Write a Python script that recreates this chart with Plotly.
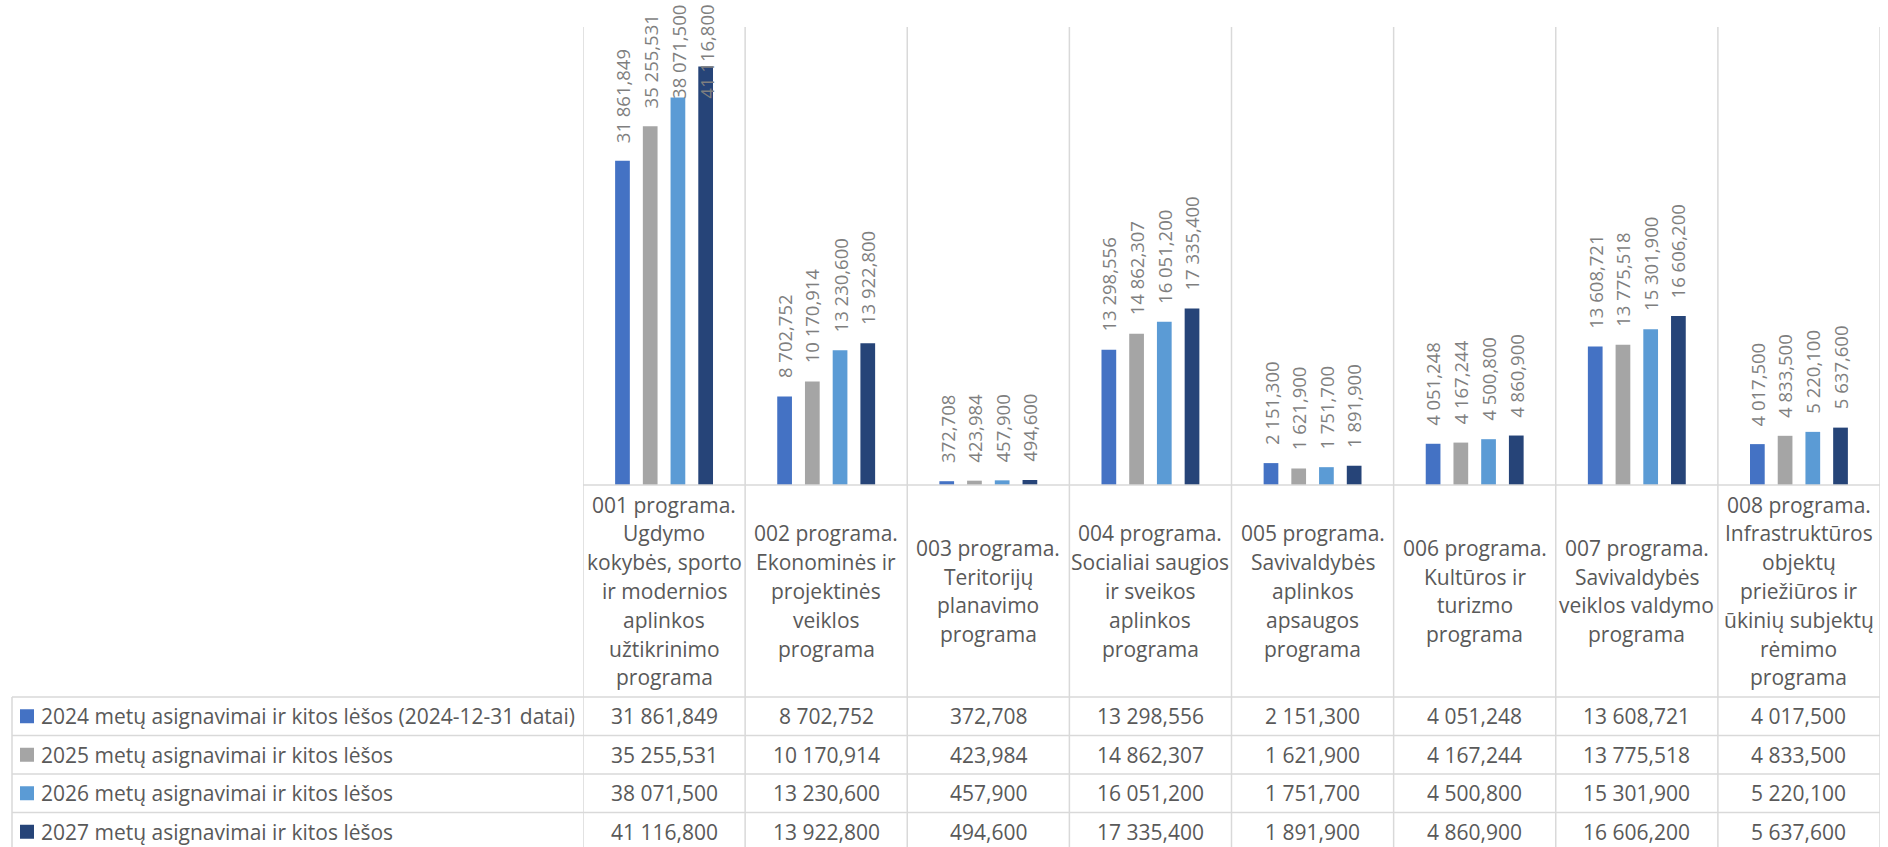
import plotly.graph_objects as go

# ---------------- data ----------------
category_lines = [
    ["001 programa.", "Ugdymo", "kokybės, sporto", "ir modernios", "aplinkos", "užtikrinimo", "programa"],
    ["002 programa.", "Ekonominės ir", "projektinės", "veiklos", "programa"],
    ["003 programa.", "Teritorijų", "planavimo", "programa"],
    ["004 programa.", "Socialiai saugios", "ir sveikos", "aplinkos", "programa"],
    ["005 programa.", "Savivaldybės", "aplinkos", "apsaugos", "programa"],
    ["006 programa.", "Kultūros ir", "turizmo", "programa"],
    ["007 programa.", "Savivaldybės", "veiklos valdymo", "programa"],
    ["008 programa.", "Infrastruktūros", "objektų", "priežiūros ir", "ūkinių subjektų", "rėmimo", "programa"],
]
series_names = [
    "2024 metų asignavimai ir kitos lėšos (2024-12-31 datai)",
    "2025 metų asignavimai ir kitos lėšos",
    "2026 metų asignavimai ir kitos lėšos",
    "2027 metų asignavimai ir kitos lėšos",
]
v2024 = [31861.849, 8702.752, 372.708, 13298.556, 2151.300, 4051.248, 13608.721, 4017.500]
v2025 = [35255.531, 10170.914, 423.984, 14862.307, 1621.900, 4167.244, 13775.518, 4833.500]
v2026 = [38071.500, 13230.600, 457.900, 16051.200, 1751.700, 4500.800, 15301.900, 5220.100]
v2027 = [41116.800, 13922.800, 494.600, 17335.400, 1891.900, 4860.900, 16606.200, 5637.600]
series_values = [v2024, v2025, v2026, v2027]
colors = ["#4472C4", "#A5A5A5", "#5B9BD5", "#264478"]
y_max = 45000

# ---------------- layout geometry (pixels) ----------------
W, H = 1888, 847
PL, PR = 583, 1880          # plot area left/right
PT, PB = 27, 485            # plot area top/bottom
TABLE_TOP = 697
ROW_H = 38.5
TABLE_LEFT = 12
LINE_COL = "#D9D9D9"
TEXT_COL = "#595959"
LABEL_COL = "#7F7F7F"
FONT = "Open Sans"
BARGAP = 0.316
BARGROUPGAP = 0.469

pw = PR - PL
ph = PB - PT


def px_x(p):
    return (p - PL) / pw


def px_y(p):
    return (PB - p) / ph


def fmt(v):
    s = f"{v:,.3f}"
    return s.replace(",", " ").replace(".", ",")


n_cat = len(category_lines)
xs = list(range(n_cat))

fig = go.Figure()
for name, vals, col in zip(series_names, series_values, colors):
    fig.add_trace(go.Bar(x=xs, y=vals, name=name, marker=dict(color=col, line=dict(width=0)),
                         showlegend=False, hoverinfo="skip"))

annotations = []
shapes = []

# data labels (rotated)
scale = ph / y_max
slot = (1 - BARGAP) / len(series_values)
cap_px = PB - 100  # highest allowed bottom of a label (px above baseline)
for k, vals in enumerate(series_values):
    for i, v in enumerate(vals):
        bottom_px = min(v * scale + 17, cap_px)
        annotations.append(dict(
            x=i + (k - 1.5) * slot, y=bottom_px / scale, xref="x", yref="y",
            text=fmt(v), textangle=-90, showarrow=False,
            xanchor="center", yanchor="bottom", borderpad=0,
            font=dict(family=FONT, size=18.5, color=LABEL_COL)))

# category labels
cat_center = (PB + TABLE_TOP) / 2
line_h = 28.8
for i, lines in enumerate(category_lines):
    n = len(lines)
    for j, t in enumerate(lines):
        p = cat_center + (j - (n - 1) / 2) * line_h
        annotations.append(dict(
            x=i, y=px_y(p), xref="x", yref="paper", text=t, showarrow=False,
            xanchor="center", yanchor="middle",
            font=dict(family=FONT, size=21, color=TEXT_COL)))

# table rows
for r, (name, vals, col) in enumerate(zip(series_names, series_values, colors)):
    cy = TABLE_TOP + ROW_H * (r + 0.5)
    shapes.append(dict(type="rect", xref="paper", yref="paper",
                       x0=px_x(20), x1=px_x(34), y0=px_y(cy - 7), y1=px_y(cy + 7),
                       fillcolor=col, line=dict(width=0)))
    annotations.append(dict(
        x=px_x(39), y=px_y(cy), xref="paper", yref="paper", text=name, showarrow=False,
        xanchor="left", yanchor="middle",
        font=dict(family=FONT, size=21, color=TEXT_COL)))
    for i, v in enumerate(vals):
        annotations.append(dict(
            x=i, y=px_y(cy), xref="x", yref="paper", text=fmt(v), showarrow=False,
            xanchor="center", yanchor="middle",
            font=dict(family=FONT, size=21, color=TEXT_COL)))

# grid / table lines
lw = 1.5
for i in range(n_cat + 1):
    shapes.append(dict(type="line", xref="x", yref="paper", x0=i - 0.5, x1=i - 0.5,
                       y0=px_y(PT), y1=px_y(H + 5), line=dict(color=LINE_COL, width=lw)))
shapes.append(dict(type="line", xref="paper", yref="paper", x0=0, x1=1,
                   y0=px_y(PB), y1=px_y(PB), line=dict(color=LINE_COL, width=lw)))
for r in range(4):
    yy = TABLE_TOP + ROW_H * r
    shapes.append(dict(type="line", xref="paper", yref="paper", x0=px_x(TABLE_LEFT), x1=1,
                       y0=px_y(yy), y1=px_y(yy), line=dict(color=LINE_COL, width=lw)))
shapes.append(dict(type="line", xref="paper", yref="paper", x0=px_x(TABLE_LEFT), x1=px_x(TABLE_LEFT),
                   y0=px_y(TABLE_TOP), y1=px_y(H + 5), line=dict(color=LINE_COL, width=lw)))

fig.update_layout(
    width=W, height=H,
    margin=dict(l=PL, r=W - PR, t=PT, b=H - PB, pad=0),
    paper_bgcolor="white", plot_bgcolor="white",
    barmode="group", bargap=BARGAP, bargroupgap=BARGROUPGAP,
    xaxis=dict(range=[-0.5, n_cat - 0.5], visible=False, showgrid=False, zeroline=False),
    yaxis=dict(range=[0, y_max], visible=False, showgrid=False, zeroline=False),
    annotations=annotations, shapes=shapes,
    font=dict(family=FONT, color=TEXT_COL),
)

fig.write_html("out.html", config={"displayModeBar": False, "staticPlot": True},
               post_script="document.body.style.margin='0px';document.body.style.overflow='hidden';")
